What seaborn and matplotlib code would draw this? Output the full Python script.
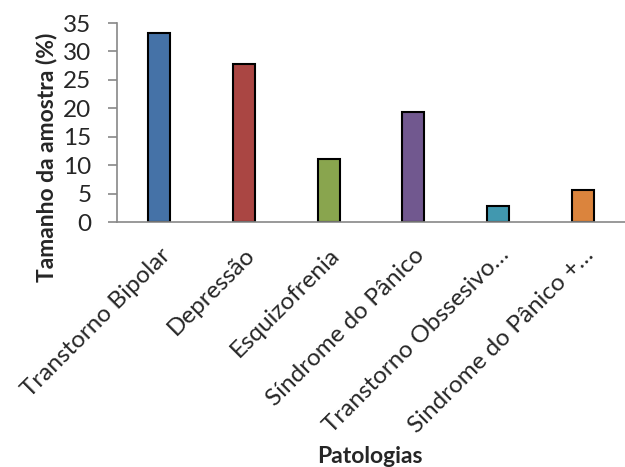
import matplotlib
matplotlib.use("Agg")
import matplotlib.pyplot as plt
import seaborn as sns
import pandas as pd

categorias = ["Transtorno Bipolar", "Depressão", "Esquizofrenia", "Síndrome do Pânico",
              "Transtorno Obssesivo…", "Sindrome do Pânico +…"]
valores = [33.3, 27.8, 11.1, 19.4, 2.8, 5.6]
cores = ["#4572A7", "#AA4643", "#89A54E", "#71588F", "#4198AF", "#DB843D"]
yticks = [0, 5, 10, 15, 20, 25, 30, 35]

sns.set_style("white")
plt.rcParams['font.family'] = ['Lato', 'DejaVu Sans']

df = pd.DataFrame({"Patologias": categorias, "Valor": valores})

fig = plt.figure(figsize=(6.25, 4.67), dpi=100)
ax = fig.add_axes([0.1872, 0.5246, 0.8128, 0.4261])
sns.barplot(data=df, x="Patologias", y="Valor", hue="Patologias", palette=cores,
            order=categorias, hue_order=categorias, width=0.26, legend=False,
            edgecolor="black", linewidth=1.5, saturation=1, ax=ax)
ax.set_ylim(0, 35)
ax.set_xlim(-0.5, len(categorias) - 0.5)
ax.set_yticks(yticks)
ax.set_yticklabels([str(t) for t in yticks], fontsize=17.5)
ax.set_xticks(range(len(categorias)))
ax.set_xticklabels(categorias, rotation=45, ha="right", rotation_mode="anchor", fontsize=17.5)
ax.tick_params(axis="y", length=6.5, width=1.2, color="#888888", direction="out", left=True, pad=12)
ax.tick_params(axis="x", length=0, pad=16)
for s in ["top", "right"]:
    ax.spines[s].set_visible(False)
for s in ["left", "bottom"]:
    ax.spines[s].set_color("#888888")
    ax.spines[s].set_linewidth(1.2)
ax.set_ylabel("")
ax.set_xlabel("")
fig.text(0.074, 0.664, "Tamanho da amostra (%)", fontsize=16.5, fontweight="bold",
         rotation=90, ha="center", va="center")
fig.text(0.592, 0.022, "Patologias", fontsize=16.5, fontweight="bold", ha="center", va="center")
fig.savefig("out.png", dpi=100)
